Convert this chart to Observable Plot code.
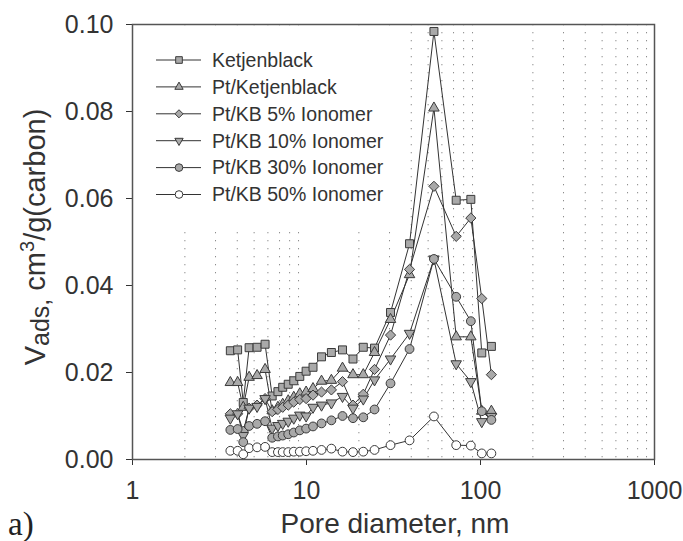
<!DOCTYPE html>
<html><head><meta charset="utf-8">
<script src="https://cdn.jsdelivr.net/npm/d3@7"></script>
<script src="https://cdn.jsdelivr.net/npm/@observablehq/plot@0.6"></script>
<style>
body{margin:0;background:#fff;}
#wrap{position:relative;width:683px;height:541px;}
</style></head><body><div id="wrap"></div>
<script>
// ---- data ----
const diameters = [3.65, 4.02, 4.33, 4.68, 5.2, 5.78, 6.35, 6.85, 7.3, 7.85, 8.45, 9.15, 9.95, 10.9, 12.2, 13.9, 16.1, 18.5, 21.2, 24.6, 30.4, 39.1, 54, 72.5, 88, 101.7, 115.5];
const seriesNames = ["Ketjenblack", "Pt/Ketjenblack", "Pt/KB 5% Ionomer", "Pt/KB 10% Ionomer", "Pt/KB 30% Ionomer", "Pt/KB 50% Ionomer"];
const ketjenblack = [0.0250, 0.0252, 0.0131, 0.0257, 0.0258, 0.0265, 0.0146, 0.0156, 0.0166, 0.0173, 0.0181, 0.0191, 0.0203, 0.0212, 0.0236, 0.0246, 0.0252, 0.0231, 0.0258, 0.0256, 0.0338, 0.0496, 0.0984, 0.0596, 0.0598, 0.0245, 0.0260];
const ptKetjenblack = [0.0177, 0.0177, 0.0120, 0.0189, 0.0193, 0.0207, 0.0112, 0.0120, 0.0127, 0.0135, 0.0143, 0.0151, 0.0155, 0.0163, 0.0180, 0.0182, 0.0210, 0.0195, 0.0195, 0.0246, 0.0322, 0.0425, 0.0808, 0.0282, 0.0282, 0.0111, 0.0111];
const ionomer5 = [0.0105, 0.0105, 0.0065, 0.0118, 0.0125, 0.0140, 0.0110, 0.0115, 0.0120, 0.0125, 0.0132, 0.0138, 0.0140, 0.0148, 0.0155, 0.0160, 0.0179, 0.0125, 0.0150, 0.0207, 0.0286, 0.0437, 0.0628, 0.0513, 0.0555, 0.0370, 0.0195];
const ionomer10 = [0.0095, 0.0105, 0.0055, 0.0118, 0.0122, 0.0140, 0.0072, 0.0078, 0.0083, 0.0088, 0.0095, 0.0102, 0.0100, 0.0120, 0.0125, 0.0130, 0.0145, 0.0118, 0.0139, 0.0183, 0.0231, 0.0290, 0.0461, 0.0220, 0.0179, 0.0087, 0.0099];
const ionomer30 = [0.0068, 0.0070, 0.0040, 0.0077, 0.0082, 0.0088, 0.0050, 0.0053, 0.0055, 0.0058, 0.0062, 0.0067, 0.0071, 0.0076, 0.0083, 0.0090, 0.0100, 0.0095, 0.0097, 0.0115, 0.0175, 0.0254, 0.0461, 0.0374, 0.0318, 0.0111, 0.0091];
const ionomer50 = [0.0020, 0.0020, 0.0012, 0.0026, 0.0028, 0.0029, 0.0017, 0.0017, 0.0017, 0.0017, 0.0018, 0.0018, 0.0019, 0.0020, 0.0022, 0.0025, 0.0018, 0.0017, 0.0018, 0.0022, 0.0033, 0.0044, 0.0099, 0.0033, 0.0032, 0.0014, 0.0014];
const xTicks = [1, 10, 100, 1000];
const yTicks = [0, 0.02, 0.04, 0.06, 0.08, 0.10];
const gridX = [2,3,4,5,6,7,8,9,20,30,40,50,60,70,80,90,200,300,400,500,600,700,800,900];

// ---- build ----
const seriesValues = [ketjenblack, ptKetjenblack, ionomer5, ionomer10, ionomer30, ionomer50];
const rows = [];
seriesNames.forEach((s, i) => diameters.forEach((d, j) => rows.push({series: s, d, v: seriesValues[i][j]})));

const triDown = {
  draw(context, size) {
    const y = Math.sqrt(size / (3 * Math.sqrt(3)));
    const s3 = Math.sqrt(3);
    context.moveTo(0, 2 * y);
    context.lineTo(s3 * y, -y);
    context.lineTo(-s3 * y, -y);
    context.closePath();
  }
};
const symbols = [d3.symbolSquare, d3.symbolTriangle, d3.symbolDiamond2, triDown, d3.symbolCircle, d3.symbolCircle];
const plotSymbols = ["square", "triangle", "diamond2", triDown, "circle", "circle"];
const radii = [4.5, 3.9, 4.6, 3.9, 4.4, 4.4];
const fills = ["#a9a9a9", "#a9a9a9", "#a9a9a9", "#a9a9a9", "#a9a9a9", "#ffffff"];
const lineColor = "#333";
const markStroke = "#3a3a3a";
const sans = "'Liberation Sans', Arial, sans-serif";

const dotMarks = seriesNames.map((s, i) =>
  Plot.dot(rows.filter(r => r.series === s), {
    x: "d", y: "v", symbol: plotSymbols[i], r: radii[i],
    fill: fills[i], stroke: markStroke, strokeWidth: 1
  })
);

const chart = Plot.plot({
  width: 683, height: 541,
  marginLeft: 132, marginRight: 29, marginTop: 24, marginBottom: 82,
  style: {fontFamily: sans, fontSize: "25px", color: "#333", background: "white", overflow: "visible"},
  x: {type: "log", domain: [1, 1000], ticks: xTicks, tickFormat: d => String(d), tickSize: 6, tickPadding: 16, label: null},
  y: {domain: [0, 0.1], ticks: yTicks, tickFormat: d3.format(".2f"), tickSize: 6, tickPadding: 13, label: null},
  marks: [
    Plot.ruleX(gridX, {stroke: "#8c8c8c", strokeDasharray: "1.3,6.7", strokeWidth: 1}),
    Plot.line(rows, {x: "d", y: "v", z: "series", stroke: lineColor, strokeWidth: 1}),
    ...dotMarks,
    Plot.frame({stroke: "#555", strokeWidth: 1.5})
  ]
});
document.getElementById("wrap").appendChild(chart);

const svg = d3.select(chart);
// legend (white box hides the grid behind it)
const lg = svg.append("g").attr("text-anchor", "start");
lg.append("rect").attr("x", 134).attr("y", 26).attr("width", 262).attr("height", 201).attr("fill", "white");
seriesNames.forEach((s, i) => {
  const cy = 60 + i * 26.9;
  lg.append("line").attr("x1", 156).attr("x2", 201).attr("y1", cy).attr("y2", cy).attr("stroke", lineColor).attr("stroke-width", 1);
  const sizes = [44, 30, 42, 30, 46, 46];
  lg.append("path").attr("d", d3.symbol(symbols[i], sizes[i])()).attr("transform", `translate(179,${cy})`)
    .attr("fill", fills[i]).attr("stroke", markStroke).attr("stroke-width", 1);
  lg.append("text").attr("x", 212).attr("y", cy).attr("dy", "0.35em").attr("fill", "#333").attr("text-anchor", "start")
    .style("font-family", sans).style("font-size", "19.5px").text(s);
});
// y label
const yl = svg.append("text").attr("transform", "translate(45,237) rotate(-90)").attr("text-anchor", "middle")
  .attr("fill", "#333").style("font-family", sans).style("font-size", "29px");
yl.append("tspan").text("V");
yl.append("tspan").attr("dy", 4).style("font-size", "25px").text("ads,");
yl.append("tspan").attr("dy", -4).text(" cm");
yl.append("tspan").attr("dy", -11).style("font-size", "20px").text("3");
yl.append("tspan").attr("dy", 11).text("/g(carbon)");
// x label
svg.append("text").attr("x", 395).attr("y", 533).attr("text-anchor", "middle").attr("fill", "#333")
  .style("font-family", sans).style("font-size", "28px").text("Pore diameter, nm");
svg.append("text").attr("x", 8).attr("y", 535).attr("text-anchor", "start").attr("fill", "#222")
  .style("font-family", "'Liberation Serif', 'Times New Roman', serif").style("font-size", "33px").text("a)");
</script>
</body></html>
